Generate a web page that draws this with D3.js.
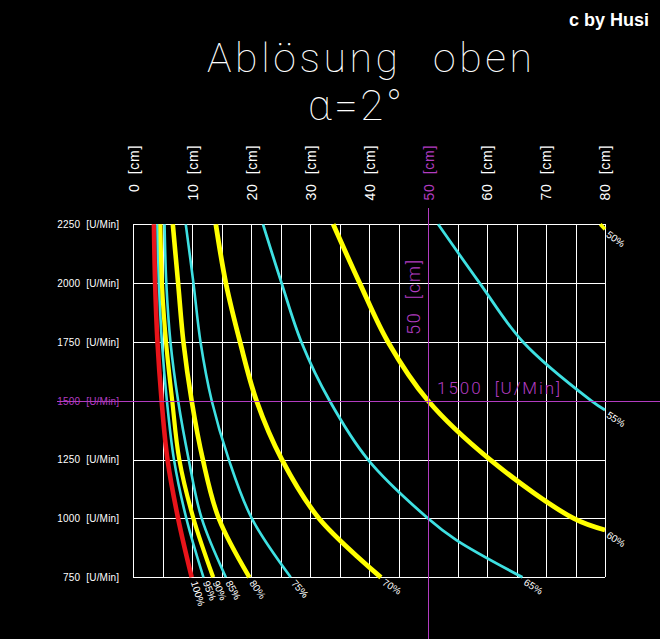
<!DOCTYPE html>
<html>
<head>
<meta charset="utf-8">
<script src="https://cdn.jsdelivr.net/npm/d3@7"></script>
<style>
  html, body { margin: 0; padding: 0; background: #000; }
  svg { display: block; }
  text { white-space: pre; }
</style>
</head>
<body>
<svg id="chart" width="660" height="639"></svg>
<script>
// ---------- data ----------
const rpmTicks = [750, 1000, 1250, 1500, 1750, 2000, 2250];
const cmTicks = [0, 10, 20, 30, 40, 50, 60, 70, 80];
const gridCm = [0, 5, 10, 15, 20, 25, 30, 35, 40, 45, 50, 55, 60, 65, 70, 75, 80];

const rpmSteps = [2250, 2000, 1750, 1500, 1250, 1000, 750];
const cm100 = [3.5, 3.7, 4.1, 4.8, 5.8, 7.6, 9.9];
const cm95  = [4.1, 4.35, 4.85, 5.7, 6.9, 9.0, 11.9];
const cm90  = [4.6, 4.85, 5.55, 6.6, 7.8, 10.2, 13.55];
const cm85  = [5.3, 5.6, 6.3, 7.6, 9.4, 11.6, 15.7];
const cm80  = [6.7, 7.6, 8.5, 9.9, 11.8, 14.5, 19.7];
const cm75  = [8.9, 10.2, 11.4, 13.3, 16.2, 20.1, 26.7];
const cm70  = [14.0, 15.7, 18.1, 20.9, 25.2, 31.5, 42.0];
const rpm65 = [2250, 2000, 1750, 1500, 1250, 1000, 908, 750];
const cm65  = [22.0, 25.15, 28.5, 33.3, 39.8, 50.0, 54.8, 66.0];
const rpm60 = [2250, 2000, 1750, 1500, 1250, 1000, 951];
const cm60  = [33.9, 38.4, 43.2, 50.0, 60.5, 74.7, 80.0];
const rpm55 = [2250, 2000, 1750, 1500, 1461];
const cm55  = [51.7, 58.75, 66.1, 77.7, 80.0];
const rpm50 = [2250, 2229];
const cm50  = [79.2, 80.0];

const seriesLabels = ["100%", "95%", "90%", "85%", "80%", "75%", "70%", "65%", "60%", "55%", "50%"];
const seriesRpm = [rpmSteps, rpmSteps, rpmSteps, rpmSteps, rpmSteps, rpmSteps, rpmSteps, rpm65, rpm60, rpm55, rpm50];
const seriesCm  = [cm100, cm95, cm90, cm85, cm80, cm75, cm70, cm65, cm60, cm55, cm50];

const markCm = 50, markRpm = 1500;

// ---------- styles ----------
const RED = "#e8141a", YEL = "#ffff00", CYA = "#3ee0e2", MAG = "#b23cc0";
const seriesColor = [RED, CYA, YEL, CYA, YEL, CYA, YEL, CYA, YEL, CYA, YEL];
const seriesWidth = [4.6, 2.6, 4.2, 2.6, 4.6, 2.6, 4.8, 2.8, 4.8, 2.8, 3.6];

// ---------- chart ----------
const svg = d3.select("#chart");
svg.append("rect").attr("width", 660).attr("height", 639).attr("fill", "#000");

const x = d3.scaleLinear().domain([0, 80]).range([133.3, 605]);
const y = d3.scaleLinear().domain([750, 2250]).range([577.3, 224.3]);

// grid
const grid = svg.append("g").attr("stroke", "#fff").attr("stroke-width", 1).attr("shape-rendering", "crispEdges");
grid.selectAll("line.v").data(gridCm.filter(d => d !== markCm)).join("line")
  .attr("x1", d => Math.round(x(d)) + 0.5).attr("x2", d => Math.round(x(d)) + 0.5)
  .attr("y1", y(2250)).attr("y2", y(750));
grid.selectAll("line.h").data(rpmTicks.filter(d => d !== markRpm)).join("line")
  .attr("y1", d => Math.round(y(d)) + 0.5).attr("y2", d => Math.round(y(d)) + 0.5)
  .attr("x1", x(0)).attr("x2", x(80));

// left axis labels
const yAxis = svg.append("g").attr("transform", `translate(${x(0)},0)`)
  .call(d3.axisLeft(y).tickValues(rpmTicks).tickSize(0).tickPadding(14)
    .tickFormat(d => d + "  [U/Min]"));
yAxis.select(".domain").remove();
yAxis.selectAll("text")
  .attr("font-family", "Liberation Sans, Arial, sans-serif")
  .attr("font-size", 10).attr("letter-spacing", 0.2)
  .attr("fill", d => d === markRpm ? MAG : "#fff");

// top axis labels (rotated)
const xAxis = svg.append("g").attr("transform", "translate(0,200)")
  .call(d3.axisTop(x).tickValues(cmTicks).tickSize(0).tickFormat(d => d + "  [cm]"));
xAxis.select(".domain").remove();
xAxis.selectAll("text")
  .attr("transform", "rotate(-90)")
  .attr("x", 55).attr("y", 0).attr("dy", "0.35em")
  .attr("text-anchor", "end")
  .attr("font-family", "Liberation Sans, Arial, sans-serif")
  .attr("font-size", 14).attr("letter-spacing", 0.7)
  .attr("fill", d => d === markCm ? MAG : "#fff");

// curves
const line = d3.line().x(d => x(d[1])).y(d => y(d[0])).curve(d3.curveCatmullRom.alpha(0.5));
const curves = svg.append("g").attr("fill", "none").attr("stroke-linecap", "butt");
seriesCm.forEach((cms, i) => {
  const pts = seriesRpm[i].map((r, j) => [r, cms[j]]);
  curves.append("path").attr("d", line(pts))
    .attr("stroke", seriesColor[i]).attr("stroke-width", seriesWidth[i]);
});

// magenta marker lines
svg.append("line").attr("x1", Math.round(x(markCm)) + 0.5).attr("x2", Math.round(x(markCm)) + 0.5)
  .attr("y1", 208).attr("y2", 639).attr("stroke", MAG).attr("stroke-width", 1);
svg.append("line").attr("y1", Math.round(y(markRpm)) + 0.5).attr("y2", Math.round(y(markRpm)) + 0.5)
  .attr("x1", 57).attr("x2", 660).attr("stroke", MAG).attr("stroke-width", 1);

// curve end labels
const lab = svg.append("g").attr("font-family", "Liberation Sans, Arial, sans-serif")
  .attr("font-size", 10).attr("fill", "#fff");
seriesCm.forEach((cms, i) => {
  const r = seriesRpm[i], n = r.length;
  const x1 = x(cms[n - 1]), y1 = y(r[n - 1]);
  const x0 = x(cms[n - 2]), y0 = y(r[n - 2]);
  const tan = Math.atan2(y1 - y0, x1 - x0) * 180 / Math.PI;
  const ang = Math.max(32, tan * 1.2 - 20);
  lab.append("text")
    .attr("transform", `translate(${x1 + 2.5},${y1 + 4}) rotate(${ang})`)
    .attr("dy", "0.35em")
    .text(seriesLabels[i]);
});

// magenta annotations
svg.append("text")
  .attr("transform", `translate(${x(markCm) - 14},297.5) rotate(-90)`)
  .attr("text-anchor", "middle").attr("dy", "0.35em")
  .attr("font-family", "Roboto, Liberation Sans, sans-serif").attr("font-weight", 300)
  .attr("font-size", 18).attr("fill", MAG)
  .attr("textLength", 75).attr("lengthAdjust", "spacing")
  .text(markCm + "  [cm]");
svg.append("text")
  .attr("x", x(markCm) + 9).attr("y", y(markRpm) - 7)
  .attr("font-family", "Roboto, Liberation Sans, sans-serif").attr("font-weight", 300)
  .attr("font-size", 17).attr("fill", MAG)
  .attr("textLength", 123).attr("lengthAdjust", "spacing")
  .text(markRpm + "  [U/Min]");

// titles
const thin = { family: "Roboto, Lato, DejaVu Sans, sans-serif", weight: 100 };
svg.append("text").attr("x", 207).attr("y", 72)
  .attr("font-family", thin.family).attr("font-weight", thin.weight)
  .attr("font-size", 41).attr("fill", "#fff")
  .attr("textLength", 191).attr("lengthAdjust", "spacing")
  .text("Ablösung");
svg.append("text").attr("x", 433).attr("y", 72)
  .attr("font-family", thin.family).attr("font-weight", thin.weight)
  .attr("font-size", 41).attr("fill", "#fff")
  .attr("textLength", 99).attr("lengthAdjust", "spacing")
  .text("oben");
svg.append("text").attr("x", 308).attr("y", 120)
  .attr("font-family", thin.family).attr("font-weight", thin.weight)
  .attr("font-size", 42).attr("fill", "#fff")
  .attr("textLength", 94).attr("lengthAdjust", "spacing")
  .text("α=2°");

// copyright
svg.append("text").attr("x", 569).attr("y", 26)
  .attr("font-family", "Liberation Sans, Arial, sans-serif")
  .attr("font-size", 18).attr("font-weight", "bold").attr("fill", "#fff")
  .text("c by Husi");
</script>
</body>
</html>
